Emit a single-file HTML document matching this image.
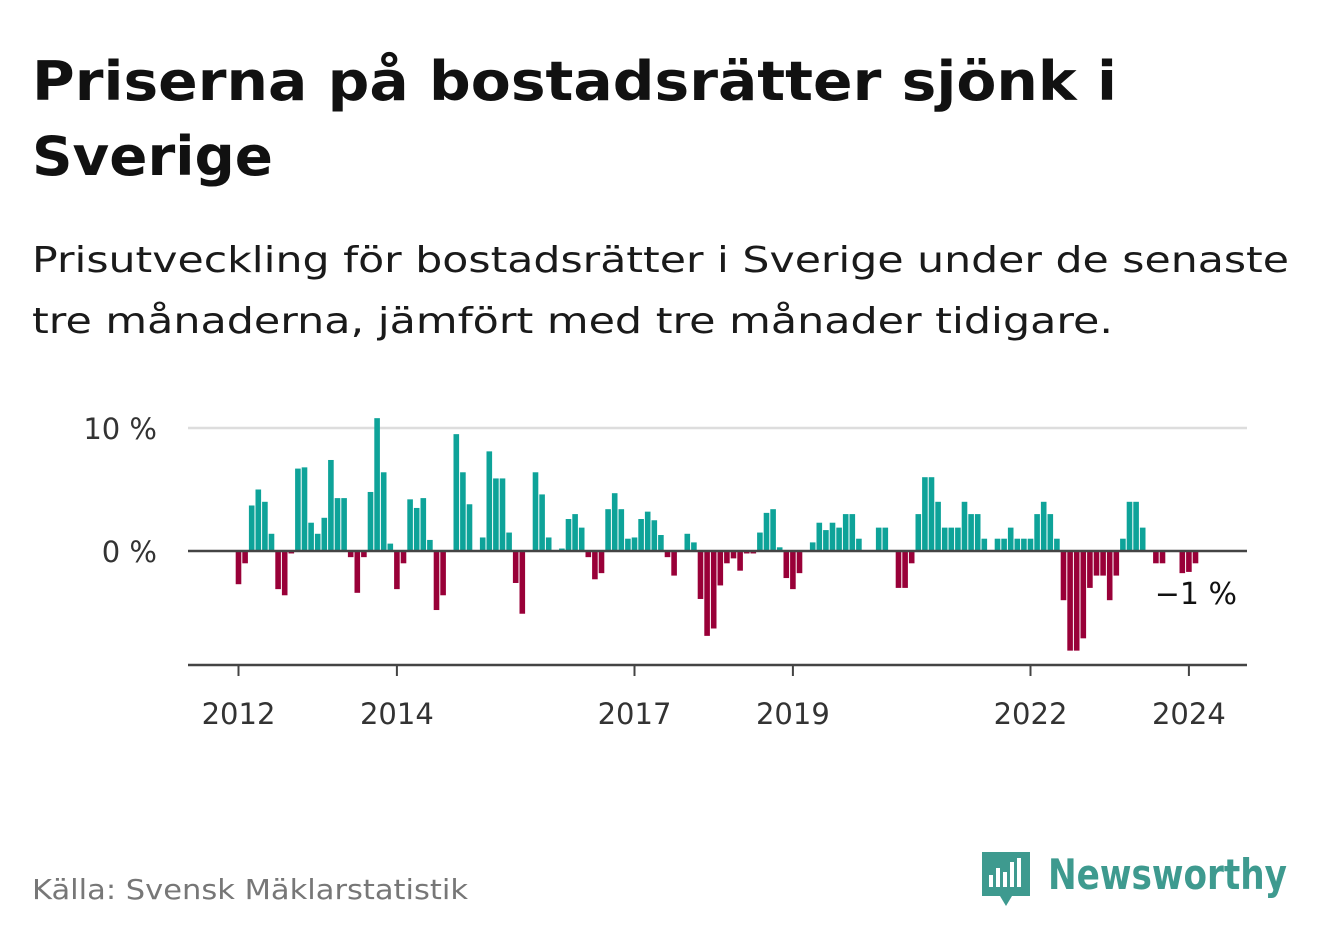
<!DOCTYPE html>
<html><head><meta charset="utf-8">
<style>
body{margin:0;background:#fff;width:1322px;height:939px;overflow:hidden;font-family:"DejaVu Sans","Liberation Sans",sans-serif;}
svg{display:block}
</style></head>
<body>
<svg id="chart" width="1322" height="939">
<text x="32" y="100" font-size="54" font-weight="bold" fill="#111" textLength="1085" lengthAdjust="spacingAndGlyphs">Priserna på bostadsrätter sjönk i</text>
<text x="32" y="175" font-size="54" font-weight="bold" fill="#111" textLength="241" lengthAdjust="spacingAndGlyphs">Sverige</text>
<text x="32" y="272" font-size="36" fill="#1a1a1a" textLength="1257" lengthAdjust="spacingAndGlyphs">Prisutveckling för bostadsrätter i Sverige under de senaste</text>
<text x="32" y="333" font-size="36" fill="#1a1a1a" textLength="1081" lengthAdjust="spacingAndGlyphs">tre månaderna, jämfört med tre månader tidigare.</text>
<g id="plot"></g>
<text x="32" y="899" font-size="28" fill="#777" textLength="436" lengthAdjust="spacingAndGlyphs">Källa: Svensk Mäklarstatistik</text>
<g>
<path d="M982 852 h48 v44 h-18 l-6 10 l-6 -10 h-18 z" fill="#3e9a8f"/>
<rect x="989" y="875" width="4" height="12" fill="#fff"/><rect x="996" y="868" width="4" height="19" fill="#fff"/><rect x="1003" y="872" width="4" height="15" fill="#fff"/><rect x="1010" y="862" width="4" height="25" fill="#fff"/><rect x="1017" y="858" width="4" height="29" fill="#fff"/>
<text x="1048" y="889" font-size="42" font-weight="bold" fill="#3e9a8f" textLength="239" lengthAdjust="spacingAndGlyphs">Newsworthy</text>
</g>
</svg>
<script>
const months = [];
for (let y = 2012; y <= 2024; y++) for (let m = 1; m <= 12; m++) months.push(y + '-' + String(m).padStart(2, '0'));
const values = [-2.7,-1.0,3.7,5.0,4.0,1.4,-3.1,-3.6,-0.2,6.7,6.8,2.3,1.4,2.7,7.4,4.3,4.3,-0.5,-3.4,-0.5,4.8,10.8,6.4,0.6,-3.1,-1.0,4.2,3.5,4.3,0.9,-4.8,-3.6,0,9.5,6.4,3.8,
0,1.1,8.1,5.9,5.9,1.5,-2.6,-5.1,0,6.4,4.6,1.1,0,0.2,2.6,3.0,1.9,-0.5,-2.3,-1.8,3.4,4.7,3.4,1.0,1.1,2.6,3.2,2.5,1.3,-0.5,-2.0,0,1.4,0.7,-3.9,-6.9,
-6.3,-2.8,-1.0,-0.6,-1.6,-0.2,-0.2,1.5,3.1,3.4,0.3,-2.2,-3.1,-1.8,0,0.7,2.3,1.7,2.3,1.9,3.0,3.0,1.0,0,0,1.9,1.9,0,-3.0,-3.0,-1.0,3.0,6.0,6.0,4.0,1.9,1.9,1.9,
4.0,3.0,3.0,1.0,0,1.0,1.0,1.9,1.0,1.0,1.0,3.0,4.0,3.0,1.0,-4.0,-8.1,-8.1,-7.1,-3.0,-2.0,-2.0,-4.0,-2.0,1.0,4.0,4.0,1.9,0,-1.0,-1.0,0,0,-1.8,-1.7,-1.0];
const yTicks = [0, 10];
const yTickLabels = ['0 %', '10 %'];
const xTickYears = ['2012','2014','2017','2019','2022','2024'];
const lastLabel = '−1 %';

const NS = 'http://www.w3.org/2000/svg';
const g = document.getElementById('plot');
const X0 = 238.5, STEP = 6.6, Y0 = 551, PX = 12.3;
const xs = i => X0 + i * STEP;
const ys = v => Y0 - v * PX;
function mk(tag, attrs){const e=document.createElementNS(NS,tag);for(const k in attrs)e.setAttribute(k,attrs[k]);g.appendChild(e);return e;}

yTicks.forEach((t,i)=>{
  if(t!==0){const l=mk('line',{x1:188,x2:1247,y1:ys(t),y2:ys(t),stroke:'#ddd','stroke-width':2.5});
  
  }
  const tx=mk('text',{x:157,y:ys(t)+11,'font-size':29,fill:'#333','text-anchor':'end'});
  tx.textContent=yTickLabels[i];
  
  
});
values.forEach((v,i)=>{
  const y=Math.min(ys(v),Y0), h=Math.abs(v)*PX;
  if(h<=0) return;
  const r=mk('rect',{x:xs(i)-2.8,y:y,width:5.6,height:h,fill:v>=0?'#0ea399':'#990038'});
  
  
});
const zl=mk('line',{x1:188,x2:1247,y1:Y0,y2:Y0,stroke:'#444','stroke-width':2.5});


const ax=mk('line',{x1:188,x2:1247,y1:665,y2:665,stroke:'#444','stroke-width':2.5});


xTickYears.forEach(yr=>{
  const i=months.indexOf(yr+'-01');
  const tk=mk('line',{x1:xs(i),x2:xs(i),y1:665,y2:676,stroke:'#444','stroke-width':2});
  
  
  const t=mk('text',{x:xs(i),y:724,'font-size':29,fill:'#333','text-anchor':'middle'});
  t.textContent=yr;
  
  
});
const ll=mk('text',{x:1237,y:604,'font-size':30,fill:'#111','text-anchor':'end'});
ll.textContent=lastLabel;


</script>
</body></html>
